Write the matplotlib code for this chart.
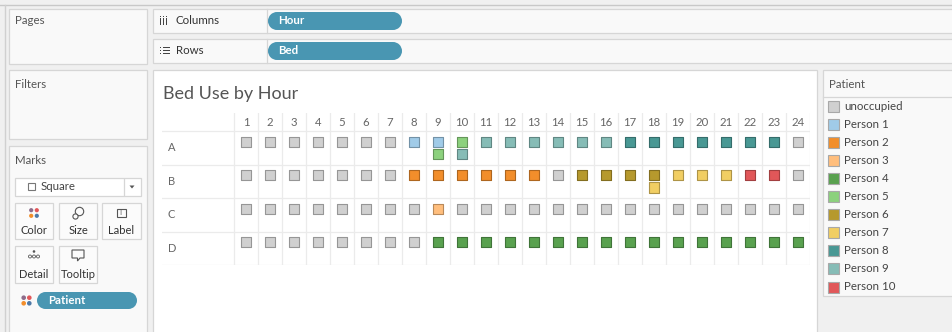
import matplotlib
matplotlib.use("Agg")
import matplotlib.pyplot as plt
from matplotlib.patches import Rectangle, FancyBboxPatch, Circle, Polygon
import numpy as np

plt.rcParams['font.family'] = ['Lato', 'DejaVu Sans']

# bed occupancy per hour (0 = unoccupied, n = Person n)
hours = list(range(1, 25))
beds = ['A', 'B', 'C', 'D']
bed_a = [0, 0, 0, 0, 0, 0, 0, 1, 1, 5, 9, 9, 9, 9, 9, 9, 8, 8, 8, 8, 8, 8, 8, 0]
bed_b = [0, 0, 0, 0, 0, 0, 0, 2, 2, 2, 2, 2, 2, 0, 6, 6, 6, 6, 7, 7, 7, 10, 10, 0]
bed_c = [0, 0, 0, 0, 0, 0, 0, 0, 3, 0, 0, 0, 0, 0, 0, 0, 0, 0, 0, 0, 0, 0, 0, 0]
bed_d = [0, 0, 0, 0, 0, 0, 0, 0, 4, 4, 4, 4, 4, 4, 4, 4, 4, 4, 4, 4, 4, 4, 4, 4]

# hand-overs: a second patient in the same bed during the same hour
handover_bed = ['A', 'A', 'B']
handover_hour = [9, 10, 18]
handover_patient = [5, 9, 7]

patient_names = ['unoccupied', 'Person 1', 'Person 2', 'Person 3', 'Person 4', 'Person 5',
                 'Person 6', 'Person 7', 'Person 8', 'Person 9', 'Person 10']
patient_colors = ['#d0d0d0', '#a0cbe8', '#f28e2b', '#ffbe7d', '#59a14f', '#8cd17d',
                  '#b6992d', '#f1ce63', '#499894', '#86bcb6', '#e15759']

W, H = 952, 332
fig = plt.figure(figsize=(W / 100, H / 100), dpi=100)
fig.patch.set_facecolor('#f0f0f0')

ui = fig.add_axes([0, 0, 1, 1])
ui.set_xlim(0, W)
ui.set_ylim(H, 0)
ui.axis('off')

BORDER = '#d6d6d6'
PANEL = '#f9f9f9'
PILL = '#4996b2'
TXT = '#555555'
FS = 8.3


def box(x0, y0, x1, y1, fc=PANEL, ec=BORDER, lw=0.9, z=1):
    ui.add_patch(Rectangle((x0, y0), x1 - x0, y1 - y0, fc=fc, ec=ec, lw=lw, zorder=z))


def pill(x0, y0, x1, y1, label, tx):
    r = (y1 - y0) / 2
    ui.add_patch(Circle((x0 + r, (y0 + y1) / 2), r, fc=PILL, ec='none', zorder=3))
    ui.add_patch(Circle((x1 - r, (y0 + y1) / 2), r, fc=PILL, ec='none', zorder=3))
    ui.add_patch(Rectangle((x0 + r, y0), x1 - x0 - 2 * r, y1 - y0, fc=PILL, ec='none', zorder=3))
    ui.text(tx, (y0 + y1) / 2, label, color='white', fontsize=FS, fontweight='bold',
            va='center', ha='left', zorder=4)


def color_dots(cx, cy, s=2.4, z=4):
    for dx, dy, c in [(-1, -1, '#8e6c8a'), (1, -1, '#e15759'), (-1, 1, '#f28e2b'), (1, 1, '#4e79a7')]:
        ui.add_patch(Circle((cx + dx * 2.8, cy + dy * 2.8), s, fc=c, ec='none', zorder=z))


# outer frame lines
ui.plot([0, W], [5, 5], color='#c8c8c8', lw=1, zorder=0.5)
ui.plot([4.5, 4.5], [5, H], color='#d0d0d0', lw=1, zorder=0.5)

# left panels
box(9, 9, 147, 64)
ui.text(15, 21, 'Pages', fontsize=FS, color=TXT, va='center')
box(9, 70, 147, 139)
ui.text(15, 84, 'Filters', fontsize=FS, color=TXT, va='center')
box(9, 146, 147, 340)
ui.text(15, 160, 'Marks', fontsize=FS, color=TXT, va='center')

# mark type dropdown
box(15, 178, 141, 196, fc='white')
ui.add_patch(Rectangle((27.5, 183), 7, 7, fc='none', ec='#777777', lw=0.8, zorder=3))
ui.text(41, 187, 'Square', fontsize=FS, color='#444444', va='center')
ui.plot([124, 124], [179, 195], color=BORDER, lw=0.9, zorder=3)
ui.add_patch(Polygon([[129.5, 185.5], [134.5, 185.5], [132, 188.5]], fc='#555555', ec='none', zorder=3))

# mark property buttons
buttons = [(15, 203, 53, 239, 'Color'), (59, 203, 97, 239, 'Size'), (102, 203, 141, 239, 'Label'),
           (15, 246, 53, 283, 'Detail'), (59, 246, 97, 283, 'Tooltip')]
for x0, y0, x1, y1, name in buttons:
    box(x0, y0, x1, y1, fc='#fbfbfb', z=2)
    ui.text((x0 + x1) / 2, y1 - 8, name, fontsize=8, color='#333333', ha='center', va='center', zorder=4)

color_dots(34, 213, s=2.1)
# size icon
ui.add_patch(Circle((79.5, 211.5), 4.2, fc='none', ec='#555555', lw=0.8, zorder=4))
ui.add_patch(Circle((75.5, 216.5), 2.6, fc='#fbfbfb', ec='#555555', lw=0.8, zorder=5))
# label icon
ui.add_patch(Rectangle((116.5, 208.5), 9, 8, fc='none', ec='#555555', lw=0.8, zorder=4))
ui.text(121, 212.8, 'T', fontsize=5, color='#555555', ha='center', va='center', zorder=4)
# detail icon
ui.add_patch(Circle((34, 251.5), 1.3, fc='#555555', ec='none', zorder=4))
for dx in (-4, 0, 4):
    ui.add_patch(Circle((34 + dx, 256.5), 1.5, fc='none', ec='#555555', lw=0.6, zorder=4))
# tooltip icon
ui.add_patch(Polygon([[72, 250], [84, 250], [84, 258], [80, 258], [77.5, 261], [77.5, 258], [72, 258]],
                     closed=True, fc='none', ec='#555555', lw=0.8, zorder=4))

color_dots(26.5, 300.5, s=2.3)
pill(37, 292, 137, 309, 'Patient', 48)

# shelves
box(153, 9, 960, 33)
box(153, 39, 960, 63)
ui.plot([267, 267], [9, 33], color=BORDER, lw=0.9, zorder=2)
ui.plot([267, 267], [39, 63], color=BORDER, lw=0.9, zorder=2)
for i in range(3):
    ui.add_patch(Rectangle((160 + i * 3, 18), 1.4, 6.5, fc='#444444', ec='none', zorder=3))
    ui.add_patch(Rectangle((160 + i * 3, 15.5), 1.4, 1.4, fc='#444444', ec='none', zorder=3))
ui.text(176, 21, 'Columns', fontsize=FS, color='#333333', va='center')
for i in range(3):
    ui.add_patch(Rectangle((159.5, 47 + i * 3), 1.5, 1.2, fc='#444444', ec='none', zorder=3))
    ui.add_patch(Rectangle((162.5, 47 + i * 3), 7, 1.2, fc='#444444', ec='none', zorder=3))
ui.text(176, 51, 'Rows', fontsize=FS, color='#333333', va='center')
pill(268, 12, 402, 30, 'Hour', 278)
pill(268, 42, 402, 60, 'Bed', 278)

# view and legend panels
box(153, 70, 817, 345, fc='white')
ui.text(163, 94, 'Bed Use by Hour', fontsize=13, color='#555555', va='center')
box(823, 70, 960, 296, fc=PANEL)
ui.plot([823, 952], [96.5, 96.5], color=BORDER, lw=0.9, zorder=2)
ui.text(829, 84, 'Patient', fontsize=FS, color=TXT, va='center')
for i, (name, c) in enumerate(zip(patient_names, patient_colors)):
    y = 106 + i * 18.1
    ui.add_patch(Rectangle((828, y - 5.5), 11, 11, fc=c, ec='#a8a8a8', lw=0.8, zorder=3))
    ui.text(844, y, name, fontsize=FS, color='#444444', va='center', zorder=3)

# the chart itself: hours across, beds down
ax = fig.add_axes([162 / W, 1 - 265 / H, (810 - 162) / W, (265 - 113) / H])
ax.set_xlim(-2.5, 24.5)
ax.set_ylim(4, -0.54)
ax.axis('off')

GRID = '#ebebeb'
for r in range(5):
    ax.plot([-2.5, 24.5], [r, r], color=GRID, lw=0.9, zorder=1)
for k in range(25):
    ax.plot([k + 0.5, k + 0.5], [-0.54, 4], color=GRID, lw=0.9, zorder=1)
for h in hours:
    ax.text(h, -0.27, str(h), fontsize=8.2, color='#666666', ha='center', va='center')
for r, b in enumerate(beds):
    ax.text(-2.25, r + 0.5, b, fontsize=8, color='#666666', ha='left', va='center')


def darker(c, f=0.72):
    rgb = np.array(matplotlib.colors.to_rgb(c))
    return tuple(rgb * f)


slot_y = [0.32, 0.69]
for r, occ in enumerate([bed_a, bed_b, bed_c, bed_d]):
    fc = [patient_colors[p] for p in occ]
    ec = [darker(c) for c in fc]
    ax.scatter(hours, [r + slot_y[0]] * len(hours), marker='s', s=56, c=fc,
               edgecolors=ec, linewidths=0.8, zorder=3)
hb_rows = [beds.index(b) + slot_y[1] for b in handover_bed]
hb_fc = [patient_colors[p] for p in handover_patient]
ax.scatter(handover_hour, hb_rows, marker='s', s=56, c=hb_fc,
           edgecolors=[darker(c) for c in hb_fc], linewidths=0.8, zorder=3)

fig.savefig('out.png', dpi=100, facecolor=fig.get_facecolor())
